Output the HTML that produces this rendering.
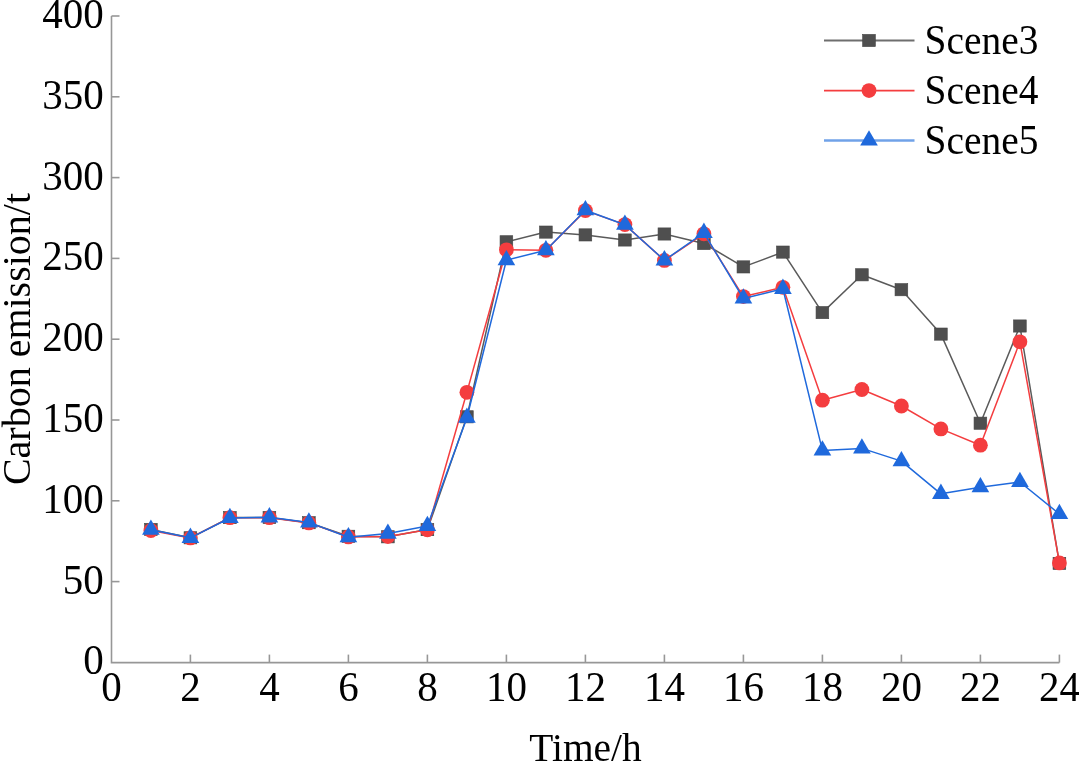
<!DOCTYPE html>
<html><head><meta charset="utf-8"><title>Carbon emission chart</title>
<style>html,body{margin:0;padding:0;background:#fff;}body{width:1079px;height:763px;overflow:hidden;}svg{display:block;}</style>
</head><body>
<svg width="1079" height="763" viewBox="0 0 1079 763">
<rect width="1079" height="763" fill="#fff"/>
<g stroke="#979797" stroke-width="1.6" fill="none">
<path d="M111.5 16.00 V662.6 H1059.40"/>
<path d="M111.5 581.60 h8"/>
<path d="M111.5 500.80 h8"/>
<path d="M111.5 420.00 h8"/>
<path d="M111.5 339.20 h8"/>
<path d="M111.5 258.40 h8"/>
<path d="M111.5 177.60 h8"/>
<path d="M111.5 96.80 h8"/>
<path d="M111.5 16.00 h8"/>
<path d="M190.40 662.6 v-8"/>
<path d="M269.40 662.6 v-8"/>
<path d="M348.40 662.6 v-8"/>
<path d="M427.40 662.6 v-8"/>
<path d="M506.40 662.6 v-8"/>
<path d="M585.40 662.6 v-8"/>
<path d="M664.40 662.6 v-8"/>
<path d="M743.40 662.6 v-8"/>
<path d="M822.40 662.6 v-8"/>
<path d="M901.40 662.6 v-8"/>
<path d="M980.40 662.6 v-8"/>
<path d="M1059.40 662.6 v-8"/>
</g>
<g font-family='"Liberation Serif", "Times New Roman", serif' fill="#000">
<text transform="translate(103.80 674.40) scale(1.0 1.02)" font-size="41.0" text-anchor="end">0</text>
<text transform="translate(103.80 593.60) scale(1.0 1.02)" font-size="41.0" text-anchor="end">50</text>
<text transform="translate(103.80 512.80) scale(1.0 1.02)" font-size="41.0" text-anchor="end">100</text>
<text transform="translate(103.80 432.00) scale(1.0 1.02)" font-size="41.0" text-anchor="end">150</text>
<text transform="translate(103.80 351.20) scale(1.0 1.02)" font-size="41.0" text-anchor="end">200</text>
<text transform="translate(103.80 270.40) scale(1.0 1.02)" font-size="41.0" text-anchor="end">250</text>
<text transform="translate(103.80 189.60) scale(1.0 1.02)" font-size="41.0" text-anchor="end">300</text>
<text transform="translate(103.80 108.80) scale(1.0 1.02)" font-size="41.0" text-anchor="end">350</text>
<text transform="translate(103.80 28.00) scale(1.0 1.02)" font-size="41.0" text-anchor="end">400</text>
<text transform="translate(111.40 700.80) scale(1.0 1.02)" font-size="41.0" text-anchor="middle">0</text>
<text transform="translate(190.40 700.80) scale(1.0 1.02)" font-size="41.0" text-anchor="middle">2</text>
<text transform="translate(269.40 700.80) scale(1.0 1.02)" font-size="41.0" text-anchor="middle">4</text>
<text transform="translate(348.40 700.80) scale(1.0 1.02)" font-size="41.0" text-anchor="middle">6</text>
<text transform="translate(427.40 700.80) scale(1.0 1.02)" font-size="41.0" text-anchor="middle">8</text>
<text transform="translate(506.40 700.80) scale(1.0 1.02)" font-size="41.0" text-anchor="middle">10</text>
<text transform="translate(585.40 700.80) scale(1.0 1.02)" font-size="41.0" text-anchor="middle">12</text>
<text transform="translate(664.40 700.80) scale(1.0 1.02)" font-size="41.0" text-anchor="middle">14</text>
<text transform="translate(743.40 700.80) scale(1.0 1.02)" font-size="41.0" text-anchor="middle">16</text>
<text transform="translate(822.40 700.80) scale(1.0 1.02)" font-size="41.0" text-anchor="middle">18</text>
<text transform="translate(901.40 700.80) scale(1.0 1.02)" font-size="41.0" text-anchor="middle">20</text>
<text transform="translate(980.40 700.80) scale(1.0 1.02)" font-size="41.0" text-anchor="middle">22</text>
<text transform="translate(1059.40 700.80) scale(1.0 1.02)" font-size="41.0" text-anchor="middle">24</text>
<text transform="translate(585.50 761.00) scale(0.985 1.0)" font-size="40.0" text-anchor="middle">Time/h</text>
<text transform="translate(29.50 339.00) rotate(-90)" font-size="40.0" text-anchor="middle">Carbon emission/t</text>
<text transform="translate(924.60 53.90) scale(0.985 1.08)" font-size="40.0">Scene3</text>
<text transform="translate(924.60 103.90) scale(0.985 1.08)" font-size="40.0">Scene4</text>
<text transform="translate(924.60 153.90) scale(0.985 1.08)" font-size="40.0">Scene5</text>
</g>
<polyline points="150.90,529.40 190.40,537.80 229.90,517.60 269.40,517.50 308.90,522.70 348.40,536.30 387.90,536.80 427.40,529.60 466.90,416.80 506.40,241.80 545.90,232.10 585.40,234.90 624.90,240.00 664.40,234.00 703.90,243.50 743.40,266.90 782.90,252.10 822.40,312.60 861.90,274.80 901.40,289.70 940.90,334.10 980.40,423.20 1019.90,326.00 1059.40,563.40" fill="none" stroke="#5a5a5a" stroke-width="1.5" stroke-linejoin="round"/>
<g fill="#4f4f4f" stroke="#454545" stroke-width="0.6"><rect x="144.55" y="523.30" width="12.7" height="12.2"/><rect x="184.05" y="531.70" width="12.7" height="12.2"/><rect x="223.55" y="511.50" width="12.7" height="12.2"/><rect x="263.05" y="511.40" width="12.7" height="12.2"/><rect x="302.55" y="516.60" width="12.7" height="12.2"/><rect x="342.05" y="530.20" width="12.7" height="12.2"/><rect x="381.55" y="530.70" width="12.7" height="12.2"/><rect x="421.05" y="523.50" width="12.7" height="12.2"/><rect x="460.55" y="410.70" width="12.7" height="12.2"/><rect x="500.05" y="235.70" width="12.7" height="12.2"/><rect x="539.55" y="226.00" width="12.7" height="12.2"/><rect x="579.05" y="228.80" width="12.7" height="12.2"/><rect x="618.55" y="233.90" width="12.7" height="12.2"/><rect x="658.05" y="227.90" width="12.7" height="12.2"/><rect x="697.55" y="237.40" width="12.7" height="12.2"/><rect x="737.05" y="260.80" width="12.7" height="12.2"/><rect x="776.55" y="246.00" width="12.7" height="12.2"/><rect x="816.05" y="306.50" width="12.7" height="12.2"/><rect x="855.55" y="268.70" width="12.7" height="12.2"/><rect x="895.05" y="283.60" width="12.7" height="12.2"/><rect x="934.55" y="328.00" width="12.7" height="12.2"/><rect x="974.05" y="417.10" width="12.7" height="12.2"/><rect x="1013.55" y="319.90" width="12.7" height="12.2"/><rect x="1053.05" y="557.30" width="12.7" height="12.2"/></g>
<polyline points="150.90,530.50 190.40,537.90 229.90,517.70 269.40,517.70 308.90,522.90 348.40,536.90 387.90,536.60 427.40,529.80 466.90,392.30 506.40,249.80 545.90,250.30 585.40,210.60 624.90,224.60 664.40,260.40 703.90,233.80 743.40,296.60 782.90,287.30 822.40,400.20 861.90,389.50 901.40,406.00 940.90,428.90 980.40,445.20 1019.90,341.80 1059.40,562.90" fill="none" stroke="#f43d3f" stroke-width="1.5" stroke-linejoin="round"/>
<g fill="#f43d3f"><circle cx="150.90" cy="530.50" r="7.4"/><circle cx="190.40" cy="537.90" r="7.4"/><circle cx="229.90" cy="517.70" r="7.4"/><circle cx="269.40" cy="517.70" r="7.4"/><circle cx="308.90" cy="522.90" r="7.4"/><circle cx="348.40" cy="536.90" r="7.4"/><circle cx="387.90" cy="536.60" r="7.4"/><circle cx="427.40" cy="529.80" r="7.4"/><circle cx="466.90" cy="392.30" r="7.4"/><circle cx="506.40" cy="249.80" r="7.4"/><circle cx="545.90" cy="250.30" r="7.4"/><circle cx="585.40" cy="210.60" r="7.4"/><circle cx="624.90" cy="224.60" r="7.4"/><circle cx="664.40" cy="260.40" r="7.4"/><circle cx="703.90" cy="233.80" r="7.4"/><circle cx="743.40" cy="296.60" r="7.4"/><circle cx="782.90" cy="287.30" r="7.4"/><circle cx="822.40" cy="400.20" r="7.4"/><circle cx="861.90" cy="389.50" r="7.4"/><circle cx="901.40" cy="406.00" r="7.4"/><circle cx="940.90" cy="428.90" r="7.4"/><circle cx="980.40" cy="445.20" r="7.4"/><circle cx="1019.90" cy="341.80" r="7.4"/><circle cx="1059.40" cy="562.90" r="7.4"/></g>
<polyline points="150.90,529.70 190.40,537.80 229.90,518.00 269.40,517.30 308.90,522.40 348.40,537.20 387.90,533.60 427.40,526.00 466.90,417.70 506.40,260.20 545.90,250.20 585.40,210.20 624.90,224.70 664.40,260.30 703.90,232.80 743.40,298.50 782.90,288.80 822.40,450.40 861.90,448.40 901.40,461.10 940.90,493.80 980.40,487.20 1019.90,482.00 1059.40,514.00" fill="none" stroke="#1f69dc" stroke-width="1.5" stroke-linejoin="round"/>
<g fill="#1f69dc"><path d="M150.90 519.50 L159.73 534.80 L142.07 534.80 Z"/><path d="M190.40 527.60 L199.23 542.90 L181.57 542.90 Z"/><path d="M229.90 507.80 L238.73 523.10 L221.07 523.10 Z"/><path d="M269.40 507.10 L278.23 522.40 L260.57 522.40 Z"/><path d="M308.90 512.20 L317.73 527.50 L300.07 527.50 Z"/><path d="M348.40 527.00 L357.23 542.30 L339.57 542.30 Z"/><path d="M387.90 523.40 L396.73 538.70 L379.07 538.70 Z"/><path d="M427.40 515.80 L436.23 531.10 L418.57 531.10 Z"/><path d="M466.90 407.50 L475.73 422.80 L458.07 422.80 Z"/><path d="M506.40 250.00 L515.23 265.30 L497.57 265.30 Z"/><path d="M545.90 240.00 L554.73 255.30 L537.07 255.30 Z"/><path d="M585.40 200.00 L594.23 215.30 L576.57 215.30 Z"/><path d="M624.90 214.50 L633.73 229.80 L616.07 229.80 Z"/><path d="M664.40 250.10 L673.23 265.40 L655.57 265.40 Z"/><path d="M703.90 222.60 L712.73 237.90 L695.07 237.90 Z"/><path d="M743.40 288.30 L752.23 303.60 L734.57 303.60 Z"/><path d="M782.90 278.60 L791.73 293.90 L774.07 293.90 Z"/><path d="M822.40 440.20 L831.23 455.50 L813.57 455.50 Z"/><path d="M861.90 438.20 L870.73 453.50 L853.07 453.50 Z"/><path d="M901.40 450.90 L910.23 466.20 L892.57 466.20 Z"/><path d="M940.90 483.60 L949.73 498.90 L932.07 498.90 Z"/><path d="M980.40 477.00 L989.23 492.30 L971.57 492.30 Z"/><path d="M1019.90 471.80 L1028.73 487.10 L1011.07 487.10 Z"/><path d="M1059.40 503.80 L1068.23 519.10 L1050.57 519.10 Z"/></g>
<path d="M824 40.5 H914.5" stroke="#6e6e6e" stroke-width="2.0"/>
<g fill="#4f4f4f" stroke="#454545" stroke-width="0.6"><rect x="862.65" y="34.40" width="12.7" height="12.2"/></g>
<path d="M824 90.6 H914.5" stroke="#f43d3f" stroke-width="1.6"/>
<g fill="#f43d3f"><circle cx="869.00" cy="90.60" r="7.4"/></g>
<path d="M824 140.5 H914.5" stroke="#70a2e8" stroke-width="2.4"/>
<g fill="#1f69dc"><path d="M869.00 130.30 L877.83 145.60 L860.17 145.60 Z"/></g>
</svg>
</body></html>
